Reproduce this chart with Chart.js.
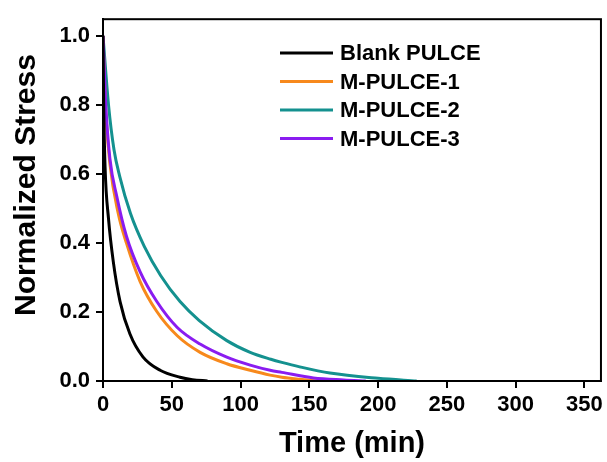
<!DOCTYPE html>
<html lang="en">
<head>
    <meta charset="UTF-8">
    <title>Normalized Stress</title>
    <style>
        html, body { margin: 0; padding: 0; background: #fff; }
        #wrap { width: 607px; height: 462px; }
    </style>
</head>
<body>
<div id="wrap">
    <canvas id="stressChart" width="607" height="462"></canvas>
</div>

<script src="https://cdn.jsdelivr.net/npm/chart.js"></script>

<script>
    // Series names and values
    const seriesNames = ["Blank PULCE", "M-PULCE-1", "M-PULCE-2", "M-PULCE-3"];

    const blankTime = [0, 0.5, 1.5, 4, 7.5, 12.4, 19.6, 29, 41.5, 56, 65, 76];
    const blankStress = [1.0, 0.8, 0.62, 0.47, 0.345, 0.23, 0.136, 0.07, 0.031, 0.011, 0.004, 0];

    const m1Time = [0, 2, 5, 11, 17, 27, 39, 54, 70.6, 90, 107, 121.5, 130, 143, 156];
    const m1Stress = [1.0, 0.78, 0.63, 0.487, 0.4, 0.288, 0.202, 0.131, 0.083, 0.05, 0.031, 0.017, 0.011, 0.005, 0];

    const m2Time = [0, 4, 8, 12, 20, 30, 42, 56, 70, 90, 107, 122, 130, 143, 165, 200, 228];
    const m2Stress = [1.0, 0.8, 0.67, 0.595, 0.485, 0.39, 0.305, 0.23, 0.175, 0.117, 0.083, 0.063, 0.054, 0.041, 0.023, 0.008, 0];

    const m3Time = [0, 2, 5, 10, 17, 27, 39, 54, 70.6, 90, 107, 121.5, 130, 153, 175, 191];
    const m3Stress = [1.0, 0.8, 0.645, 0.535, 0.42, 0.316, 0.231, 0.155, 0.107, 0.069, 0.046, 0.031, 0.025, 0.009, 0.003, 0];

    const xTicks = [0, 50, 100, 150, 200, 250, 300, 350];
    const yTicks = [0, 0.2, 0.4, 0.6, 0.8, 1.0];
    const yTitle = "Normalized Stress";

    const colors = ["#000000", "#f7891c", "#14918f", "#8a1cf0"];
    const fontFamily = 'Arial, "Liberation Sans", sans-serif';

    // turn two arrays into {x, y} points
    function toPoints(times, values) {
        return times.map((t, i) => ({ x: t, y: values[i] }));
    }

    const allSeries = [
        toPoints(blankTime, blankStress),
        toPoints(m1Time, m1Stress),
        toPoints(m2Time, m2Stress),
        toPoints(m3Time, m3Stress)
    ];

    // Draw order: teal at back, black on top like the picture
    const drawOrder = [0, 2, 3, 1];

    // box around the plot, the legend inside it and the y title
    const framePlugin = {
        id: "frame",
        afterDraw(chart) {
            const ctx = chart.ctx;
            const a = chart.chartArea;
            ctx.save();
            ctx.strokeStyle = "#000";
            ctx.lineWidth = 2;
            ctx.strokeRect(a.left, a.top, a.right - a.left, a.bottom - a.top);

            ctx.font = "bold 22px " + fontFamily;
            ctx.textBaseline = "middle";
            ctx.fillStyle = "#000";
            chart.data.datasets.forEach((ds, i) => {
                const y = 53 + i * 28.5;
                ctx.strokeStyle = ds.borderColor;
                ctx.lineWidth = 3;
                ctx.beginPath();
                ctx.moveTo(280, y);
                ctx.lineTo(333, y);
                ctx.stroke();
                ctx.fillText(ds.label, 340, y + 1);
            });

            // y title sits a little above the middle of the axis
            ctx.translate(27, 185);
            ctx.rotate(-Math.PI / 2);
            ctx.textAlign = "center";
            ctx.font = "bold 30px " + fontFamily;
            ctx.fillText(yTitle, 0, 0);
            ctx.restore();
        }
    };

    const stressChart = new Chart(document.getElementById("stressChart"), {
        type: "scatter",
        data: {
            datasets: seriesNames.map((name, i) => ({
                label: name,
                data: allSeries[i],
                showLine: true,
                borderColor: colors[i],
                backgroundColor: colors[i],
                borderWidth: 3,
                pointRadius: 0,
                cubicInterpolationMode: "monotone",
                order: drawOrder[i]
            }))
        },
        options: {
            responsive: false,
            animation: false,
            layout: { padding: { left: 0, top: 13, right: 6, bottom: 0 } },
            plugins: {
                legend: { display: false },
                tooltip: { enabled: false }
            },
            scales: {
                x: {
                    type: "linear",
                    min: 0,
                    max: 362,
                    afterBuildTicks: s => { s.ticks = xTicks.map(v => ({ value: v })); },
                    afterFit: s => { s.height = 81; },
                    border: { display: true, color: "#000", width: 2 },
                    grid: { drawOnChartArea: false, drawTicks: true, tickLength: 7, color: "#000", lineWidth: 2 },
                    ticks: {
                        color: "#000",
                        padding: 4,
                        maxRotation: 0,
                        font: { family: fontFamily, size: 22, weight: "bold" }
                    },
                    title: {
                        display: true,
                        text: "Time (min)",
                        color: "#000",
                        padding: { top: 0, bottom: 1 },
                        font: { family: fontFamily, size: 29, weight: "bold" }
                    }
                },
                y: {
                    min: 0,
                    max: 1.048,
                    afterBuildTicks: s => { s.ticks = yTicks.map(v => ({ value: v })); },
                    afterFit: s => { s.width = 103; },
                    border: { display: true, color: "#000", width: 2 },
                    grid: { drawOnChartArea: false, drawTicks: true, tickLength: 7, color: "#000", lineWidth: 2 },
                    ticks: {
                        color: "#000",
                        padding: 6,
                        callback: v => v.toFixed(1),
                        font: { family: fontFamily, size: 22, weight: "bold" }
                    }
                }
            }
        },
        plugins: [framePlugin]
    });
</script>

</body>
</html>
